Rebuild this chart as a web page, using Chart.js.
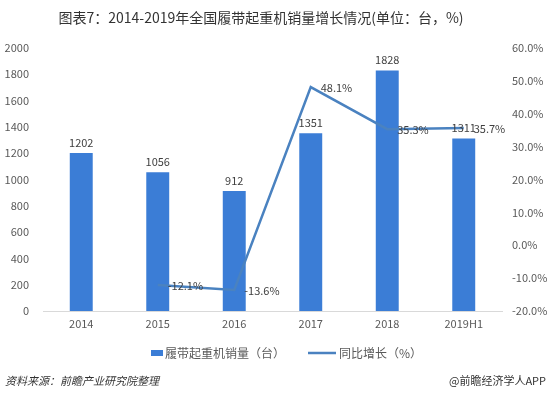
<!DOCTYPE html>
<html><head><meta charset="utf-8">
<script src="https://cdn.jsdelivr.net/npm/chart.js@4"></script>
<style>html,body{margin:0;padding:0;background:#fff}#wrap{width:550px;height:399px;position:relative}</style>
</head><body><div id="wrap"><canvas id="c" width="550" height="399"></canvas></div>
<script>
const categories = ['2014','2015','2016','2017','2018','2019H1'];
const salesValues = [1202, 1056, 912, 1351, 1828, 1311];
const growthValues = [null, -12.1, -13.6, 48.1, 35.3, 35.7];
const leftTicks = [0, 2000, 200];
const rightTicks = [-20, 60, 10];
const titleText = '图表7：2014-2019年全国履带起重机销量增长情况(单位：台，%)';
const seriesNames = ['履带起重机销量（台）', '同比增长（%）'];
const sourceText = '资料来源：前瞻产业研究院整理';
const creditText = '@前瞻经济学人APP';

const FONT = '"Noto Sans CJK SC", "Noto Sans", sans-serif';
const BAR = '#3b7dd6';
const LINE = '#4a82c0';

const extras = {
  id: 'extras',
  afterDatasetsDraw(chart) {
    const ctx = chart.ctx;
    ctx.save();
    ctx.font = '11px ' + FONT;
    ctx.fillStyle = '#404040';
    ctx.textAlign = 'center';
    ctx.textBaseline = 'bottom';
    chart.getDatasetMeta(0).data.forEach((el, i) => {
      ctx.fillText(String(salesValues[i]), el.x, el.y - 5);
    });
    ctx.textAlign = 'left';
    ctx.textBaseline = 'middle';
    chart.getDatasetMeta(1).data.forEach((el, i) => {
      if (growthValues[i] == null) return;
      ctx.fillText(growthValues[i].toFixed(1) + '%', el.x + 10, el.y + 1);
    });
    ctx.restore();
  },
  afterDraw(chart) {
    const ctx = chart.ctx;
    ctx.save();
    ctx.font = '14px ' + FONT;
    ctx.fillStyle = '#333333';
    ctx.textAlign = 'center';
    ctx.textBaseline = 'middle';
    ctx.fillText(titleText, 261, 18);
    ctx.font = '12px ' + FONT;
    ctx.textAlign = 'left';
    ctx.fillStyle = BAR;
    ctx.fillRect(151, 350, 12, 6);
    ctx.fillStyle = '#595959';
    ctx.fillText(seriesNames[0], 165, 353);
    ctx.strokeStyle = LINE;
    ctx.lineWidth = 2.5;
    ctx.beginPath(); ctx.moveTo(308, 353); ctx.lineTo(336, 353); ctx.stroke();
    ctx.fillText(seriesNames[1], 339, 353);
    ctx.font = 'italic 11px ' + FONT;
    ctx.fillStyle = '#333333';
    ctx.fillText(sourceText, 5, 381);
    ctx.font = '11px ' + FONT;
    ctx.textAlign = 'right';
    ctx.fillText(creditText, 546, 381);
    ctx.restore();
  }
};

new Chart(document.getElementById('c'), {
  data: {
    labels: categories,
    datasets: [
      { type: 'bar', label: seriesNames[0], data: salesValues, backgroundColor: BAR,
        yAxisID: 'y', barPercentage: 0.3, categoryPercentage: 1, order: 2 },
      { type: 'line', label: seriesNames[1], data: growthValues, borderColor: LINE,
        borderWidth: 2.5, pointRadius: 0, yAxisID: 'y1', tension: 0, spanGaps: false, order: 1 }
    ]
  },
  options: {
    responsive: false,
    animation: false,
    devicePixelRatio: 1,
    layout: { padding: { top: 48, bottom: 68, left: 0, right: 0 } },
    plugins: { legend: { display: false }, title: { display: false }, tooltip: { enabled: false } },
    scales: {
      x: {
        grid: { display: false, drawTicks: false },
        border: { display: true, color: '#d9d9d9', width: 1 },
        ticks: { color: '#595959', font: { size: 11, family: FONT }, padding: 6 },
        afterFit(s) { s.height = 20; }
      },
      y: {
        position: 'left', min: leftTicks[0], max: leftTicks[1],
        grid: { display: false, drawTicks: false }, border: { display: false },
        ticks: { stepSize: leftTicks[2], color: '#595959', font: { size: 11, family: FONT }, padding: 14,
          callback: v => String(v) },
        afterFit(s) { s.width = 43; }
      },
      y1: {
        position: 'right', min: rightTicks[0], max: rightTicks[1],
        grid: { display: false, drawTicks: false }, border: { display: false },
        ticks: { stepSize: rightTicks[2], color: '#595959', font: { size: 11, family: FONT }, padding: 10,
          callback: v => v.toFixed(1) + '%' },
        afterFit(s) { s.width = 48; }
      }
    }
  },
  plugins: [extras]
});
</script></body></html>
